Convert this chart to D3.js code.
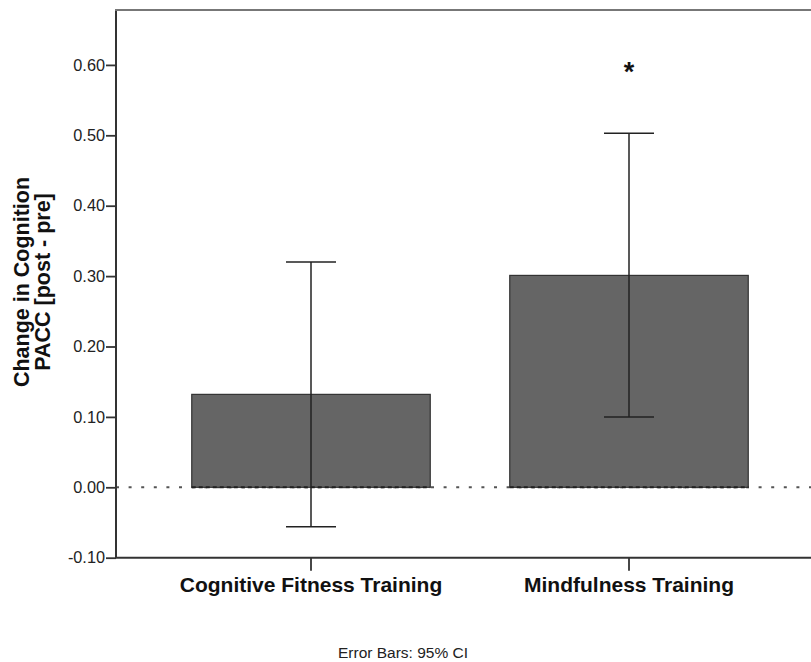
<!DOCTYPE html>
<html>
<head>
<meta charset="utf-8">
<script src="https://cdn.jsdelivr.net/npm/d3@7"></script>
<style>
  html, body { margin: 0; padding: 0; background: #fff; }
  svg { display: block; }
  text { font-family: Arial, "Liberation Sans", sans-serif; }
</style>
</head>
<body>
<svg id="chart" width="811" height="662"></svg>
<script>
// ---- data ----
const categories = ["Cognitive Fitness Training", "Mindfulness Training"];
const means = [0.132, 0.301];
const ciLower = [-0.056, 0.100];
const ciUpper = [0.320, 0.503];
const significance = ["", "*"];
const yTicks = [-0.10, 0.00, 0.10, 0.20, 0.30, 0.40, 0.50, 0.60];
const yLabelLines = ["Change in Cognition", "PACC [post - pre]"];
const footnote = "Error Bars: 95% CI";

// ---- layout ----
const svg = d3.select("#chart");
const axisX = 116, frameTop = 10, axisY = 557.7, rightEdge = 811;

const y = d3.scaleLinear().domain([-0.10, 0.678]).range([axisY, frameTop]);
const x = d3.scaleBand().domain(categories).range([152, 788])
  .paddingInner(0.25).paddingOuter(0.125);

const axisColor = "#333";

// zero dotted line
svg.append("line")
  .attr("x1", axisX).attr("x2", rightEdge)
  .attr("y1", y(0)).attr("y2", y(0))
  .attr("stroke", "#555").attr("stroke-width", 2)
  .attr("stroke-dasharray", "3,9.6");

// bars
svg.selectAll("rect.bar").data(categories).join("rect")
  .attr("class", "bar")
  .attr("x", d => x(d))
  .attr("width", x.bandwidth())
  .attr("y", (d, i) => y(Math.max(0, means[i])))
  .attr("height", (d, i) => Math.abs(y(0) - y(means[i])))
  .attr("fill", "#656565")
  .attr("stroke", "#333").attr("stroke-width", 1.2);

// bar bottom dotted edge
svg.selectAll("line.barbase").data(categories).join("line")
  .attr("class", "barbase")
  .attr("x1", d => x(d)).attr("x2", d => x(d) + x.bandwidth())
  .attr("y1", y(0)).attr("y2", y(0))
  .attr("stroke", "#222").attr("stroke-width", 2)
  .attr("stroke-dasharray", "4,3");

// error bars
const capW = 25;
const eb = svg.append("g").attr("stroke", "#222").attr("stroke-width", 1.5);
categories.forEach((c, i) => {
  const cx = x(c) + x.bandwidth() / 2;
  eb.append("line").attr("x1", cx).attr("x2", cx)
    .attr("y1", y(ciLower[i])).attr("y2", y(ciUpper[i]));
  eb.append("line").attr("x1", cx - capW).attr("x2", cx + capW)
    .attr("y1", y(ciUpper[i])).attr("y2", y(ciUpper[i]));
  eb.append("line").attr("x1", cx - capW).attr("x2", cx + capW)
    .attr("y1", y(ciLower[i])).attr("y2", y(ciLower[i]));
  if (significance[i]) {
    svg.append("text")
      .attr("x", cx).attr("y", y(0.577))
      .attr("text-anchor", "middle")
      .attr("font-size", 27).attr("font-weight", "bold")
      .attr("fill", "#111")
      .text(significance[i]);
  }
});

// y axis
const fmt = d => d3.format(".2f")(d).replace("\u2212", "-");
const yAxis = d3.axisLeft(y).tickValues(yTicks).tickFormat(fmt)
  .tickSize(10).tickPadding(1);
const gy = svg.append("g").attr("transform", `translate(${axisX},0)`).call(yAxis);
gy.select(".domain").remove();
gy.selectAll(".tick line").attr("stroke", axisColor).attr("stroke-width", 1.8);
gy.selectAll(".tick text").attr("font-size", 16.3).attr("fill", "#222")
  .attr("font-family", "Arial, 'Liberation Sans', sans-serif");

// x axis
const xAxis = d3.axisBottom(x).tickSize(13).tickPadding(8);
const gx = svg.append("g").attr("transform", `translate(0,${axisY})`).call(xAxis);
gx.select(".domain").remove();
gx.selectAll(".tick line").attr("stroke", axisColor).attr("stroke-width", 1.8);
gx.selectAll(".tick text").attr("font-size", 21).attr("font-weight", "bold")
  .attr("fill", "#111")
  .attr("y", 592 - axisY).attr("dy", null)
  .attr("font-family", "Arial, 'Liberation Sans', sans-serif");

// frame lines
svg.append("line").attr("x1", axisX).attr("x2", axisX)
  .attr("y1", frameTop).attr("y2", axisY)
  .attr("stroke", axisColor).attr("stroke-width", 2);
svg.append("line").attr("x1", axisX - 1).attr("x2", rightEdge)
  .attr("y1", axisY).attr("y2", axisY)
  .attr("stroke", axisColor).attr("stroke-width", 2);
svg.append("line").attr("x1", axisX - 1).attr("x2", rightEdge)
  .attr("y1", frameTop).attr("y2", frameTop)
  .attr("stroke", "#777").attr("stroke-width", 2);

// y label
const yl = svg.append("text")
  .attr("transform", `translate(28.5,282) rotate(-90)`)
  .attr("text-anchor", "middle")
  .attr("font-size", 21.5).attr("font-weight", "bold").attr("fill", "#111");
yLabelLines.forEach((t, i) => {
  yl.append("tspan").attr("x", 0).attr("dy", i === 0 ? 0 : 21).text(t);
});

// footnote
svg.append("text")
  .attr("x", 403).attr("y", 658)
  .attr("text-anchor", "middle")
  .attr("font-size", 15.5).attr("fill", "#222")
  .text(footnote);
</script>
</body>
</html>
